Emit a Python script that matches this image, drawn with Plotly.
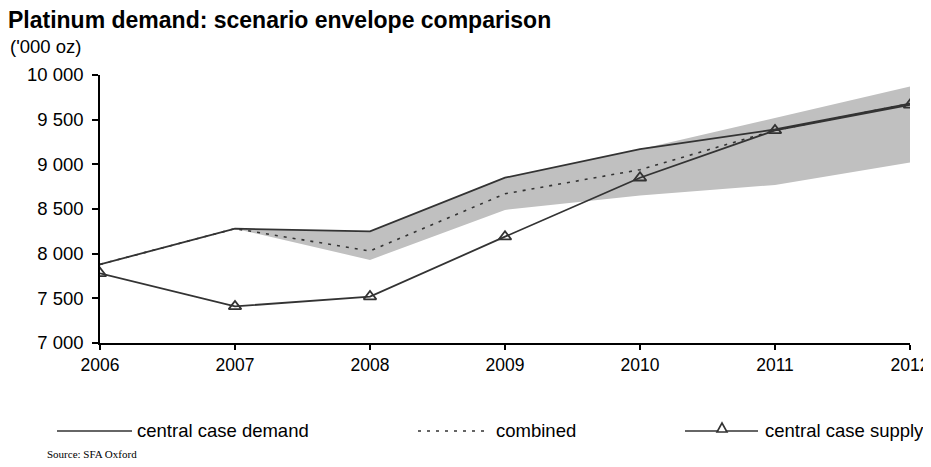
"""Platinum demand: scenario envelope comparison"""

import plotly.graph_objects as go

# Data ('000 oz)
years = [2006, 2007, 2008, 2009, 2010, 2011, 2012]
demand = [7880, 8280, 8250, 8850, 9170, 9390, 9680]
combined = [7880, 8280, 8030, 8670, 8940, 9380, 9680]
supply = [7780, 7410, 7520, 8190, 8850, 9380, 9665]
envelope_low = [7880, 8280, 7930, 8490, 8650, 8770, 9020]
envelope_high = [7880, 8280, 8250, 8850, 9170, 9520, 9870]

legend_labels = ["central case demand", "combined", "central case supply"]

FONT = "Liberation Sans, Arial, sans-serif"
LINE = "#333333"

# page has an 8px body margin, so the figure is drawn 8px in from the corner
OFF = 8
W, H = 931 - OFF, 467 - OFF
# plot area in window pixels
L, R, T, B = 100, 910, 75, 343


def px(x):
    return (x - L) / (R - L)


def py(y):
    return (B - y) / (B - T)


fig = go.Figure()

# Scenario envelope (shaded band)
fig.add_trace(go.Scatter(
    x=years, y=envelope_low, mode="lines",
    line=dict(width=0), hoverinfo="skip", showlegend=False
))
fig.add_trace(go.Scatter(
    x=years, y=envelope_high, mode="lines",
    line=dict(width=0), fill="tonexty", fillcolor="#c0c0c0",
    hoverinfo="skip", showlegend=False
))

fig.add_trace(go.Scatter(
    x=years, y=demand, mode="lines", name=legend_labels[0],
    line=dict(color=LINE, width=1.8), showlegend=False
))
fig.add_trace(go.Scatter(
    x=years, y=combined, mode="lines", name=legend_labels[1],
    line=dict(color=LINE, width=1.6, dash="3px,6px"), showlegend=False
))
fig.add_trace(go.Scatter(
    x=years, y=supply, mode="lines+markers", name=legend_labels[2],
    line=dict(color=LINE, width=1.8),
    marker=dict(symbol="triangle-up-open", size=11, color=LINE,
                line=dict(color=LINE, width=1.8)),
    showlegend=False
))

# Hand-drawn legend (long symbol lines like the original)
ly = 431
shapes = [
    dict(type="line", xref="paper", yref="paper",
         x0=px(57), x1=px(132), y0=py(ly), y1=py(ly),
         line=dict(color=LINE, width=1.6)),
    dict(type="line", xref="paper", yref="paper",
         x0=px(418), x1=px(488), y0=py(ly), y1=py(ly),
         line=dict(color=LINE, width=1.6, dash="3px,6px")),
    dict(type="line", xref="paper", yref="paper",
         x0=px(685), x1=px(758), y0=py(ly), y1=py(ly),
         line=dict(color=LINE, width=1.6)),
    dict(type="path", xref="paper", yref="paper",
         path=(f"M {px(717)},{py(ly + 1)} L {px(727)},{py(ly + 1)} "
               f"L {px(722)},{py(ly - 8)} Z"),
         fillcolor="white", line=dict(color=LINE, width=1.6)),
]

annotations = [
    dict(text=legend_labels[0], x=px(135), y=py(ly - 1)),
    dict(text=legend_labels[1], x=px(494), y=py(ly - 1)),
    dict(text=legend_labels[2], x=px(763), y=py(ly - 1)),
]
for a in annotations:
    a.update(xref="paper", yref="paper", xanchor="left", yanchor="middle",
             showarrow=False, font=dict(family=FONT, size=18.5, color="black"))

annotations.append(dict(
    text="('000 oz)", xref="paper", yref="paper", x=px(8), y=py(47),
    xanchor="left", yanchor="middle", showarrow=False,
    font=dict(family=FONT, size=18.5, color="black")
))
annotations.append(dict(
    text="Source: SFA Oxford", xref="paper", yref="paper", x=px(45), y=py(454),
    xanchor="left", yanchor="middle", showarrow=False,
    font=dict(family="Liberation Serif, Times New Roman, serif", size=11,
              color="black")
))

fig.update_layout(
    width=W, height=H,
    margin=dict(l=L - OFF, r=W + OFF - R, t=T - OFF, b=H + OFF - B),
    paper_bgcolor="white", plot_bgcolor="white",
    separators=". ",
    title=dict(
        text="<b>Platinum demand: scenario envelope comparison</b>",
        x=0, xanchor="left", xref="container",
        y=1 - (20 - OFF) / H, yanchor="middle", yref="container",
        font=dict(family=FONT, size=23, color="black")
    ),
    shapes=shapes,
    annotations=annotations,
    showlegend=False,
)

fig.update_xaxes(
    range=[2006, 2012], tickvals=years, showgrid=False, zeroline=False,
    showline=True, linecolor="black", linewidth=1.5, automargin=False,
    ticklabeloverflow="allow",
    ticks="outside", ticklen=5, tickcolor="black", tickwidth=1.5,
    tickfont=dict(family=FONT, size=17.5, color="black")
)
fig.update_yaxes(
    range=[7000, 10000], dtick=500, tickformat=",d", showgrid=False,
    zeroline=False, showline=True, linecolor="black", linewidth=1.5,
    automargin=False,
    ticks="outside", ticklen=6, tickcolor="black", tickwidth=1.5,
    ticklabelstandoff=5,
    tickfont=dict(family=FONT, size=18.5, color="black")
)

# no scrollbars: the page is only a few pixels larger than the window
fig.write_html("out.html",
               post_script="document.body.style.overflow = 'hidden';")
